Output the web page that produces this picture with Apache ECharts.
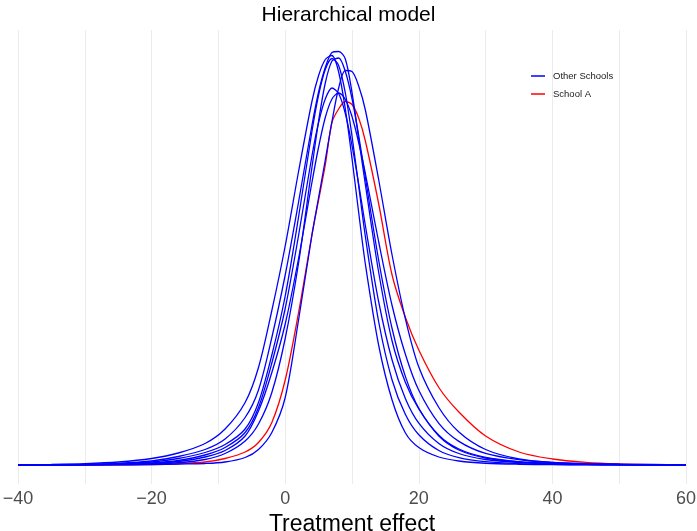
<!DOCTYPE html>
<html>
<head>
<meta charset="utf-8">
<script src="https://cdn.jsdelivr.net/npm/echarts@6.0.0/dist/echarts.min.js"></script>
<style>
  html, body { margin: 0; padding: 0; background: #fff; }
  #chart { width: 697px; height: 531px; }
</style>
</head>
<body>
<div id="chart"></div>
<script>
// Shared x grid for all density curves (treatment effect)
const effectX = [-40, -35, -30, -25, -20, -16, -12, -9, -6, -4, -2, 0, 2, 4, 5, 6, 7, 8, 9, 10, 11, 12, 14, 16, 18, 20, 23, 26, 30, 35, 40, 45, 50, 55, 60];

// Posterior densities of the other schools
const school1 = [0.00005, 0.00012, 0.00027, 0.0006, 0.0013, 0.0024, 0.0043, 0.0072, 0.0125, 0.0195, 0.0309, 0.0438, 0.0587, 0.0727, 0.0779, 0.0811, 0.0819, 0.0786, 0.0712, 0.0613, 0.0505, 0.0402, 0.0239, 0.013, 0.0064, 0.0035, 0.0016, 0.0008, 0.00035, 0.00015, 0.00007, 0.00004, 0.00002, 0.00001, 0];
const school2 = [0.00003, 0.00006, 0.00014, 0.00033, 0.0008, 0.0017, 0.0031, 0.0052, 0.0095, 0.015, 0.0255, 0.038, 0.0526, 0.0679, 0.0746, 0.0795, 0.0825, 0.0827, 0.0812, 0.0745, 0.0653, 0.0561, 0.0385, 0.0248, 0.0165, 0.0112, 0.0058, 0.003, 0.0014, 0.0006, 0.00028, 0.00013, 0.00007, 0.00004, 0.00003];
const school3 = [0.00002, 0.00005, 0.0001, 0.00025, 0.0006, 0.0013, 0.0025, 0.0041, 0.0072, 0.0125, 0.022, 0.0338, 0.0496, 0.0667, 0.074, 0.0791, 0.0813, 0.0799, 0.0744, 0.0658, 0.0558, 0.0457, 0.0286, 0.017, 0.0101, 0.00606, 0.00291, 0.00148, 0.00067, 0.00028, 0.00014, 0.00007, 0.00004, 0.00002, 0.00001];
const school4 = [0, 0, 0.00001, 0.00003, 0.00008, 0.00018, 0.0003, 0.0006, 0.0015, 0.0031, 0.0065, 0.0135, 0.029, 0.046, 0.0535, 0.061, 0.0687, 0.0754, 0.0789, 0.0787, 0.0758, 0.071, 0.057, 0.042, 0.0292, 0.0196, 0.0115, 0.0066, 0.0031, 0.0012, 0.0005, 0.0002, 0.0001, 0.00004, 0.00002];
const school5 = [0.00001, 0.00003, 0.00007, 0.00016, 0.0004, 0.0009, 0.002, 0.0035, 0.0065, 0.0115, 0.0204, 0.0313, 0.0459, 0.0618, 0.0685, 0.0732, 0.0754, 0.0743, 0.0703, 0.0639, 0.0562, 0.0479, 0.0326, 0.021, 0.01325, 0.00836, 0.0043, 0.0023, 0.0011, 0.00048, 0.00023, 0.00012, 0.00007, 0.00004, 0.00002];
const school6 = [0.00001, 0.00002, 0.00005, 0.00012, 0.0003, 0.0007, 0.0016, 0.0029, 0.0058, 0.0108, 0.0185, 0.0282, 0.0413, 0.0565, 0.0636, 0.0695, 0.0732, 0.0744, 0.0731, 0.0697, 0.0645, 0.0583, 0.0446, 0.0319, 0.0221, 0.01494, 0.00833, 0.00473, 0.00231, 0.00106, 0.00051, 0.00029, 0.00016, 0.0001, 0.00006];
const school7 = [0.00001, 0.00002, 0.00004, 0.00008, 0.0002, 0.00045, 0.0011, 0.0023, 0.0048, 0.0082, 0.0145, 0.0253, 0.0404, 0.0595, 0.0688, 0.0764, 0.0808, 0.0814, 0.0787, 0.0733, 0.0659, 0.0575, 0.0409, 0.0273, 0.01767, 0.01135, 0.00596, 0.0032, 0.00152, 0.00068, 0.00034, 0.00018, 0.0001, 0.00006, 0.00003];

// School A (long right tail)
const schoolA = [0, 0.00001, 0.00002, 0.00004, 0.0001, 0.00025, 0.0006, 0.0013, 0.0026, 0.0045, 0.0085, 0.017, 0.0305, 0.046, 0.053, 0.06, 0.0685, 0.0712, 0.0727, 0.0721, 0.0694, 0.0648, 0.0522, 0.038, 0.0295, 0.023, 0.0155, 0.0106, 0.0058, 0.0026, 0.0012, 0.00052, 0.0002, 0.00007, 0.00002];

const otherSchools = [school1, school2, school3, school4, school5, school6, school7];
const legendNames = ['Other Schools', 'School A'];

function toPairs(values) {
    return effectX.map((x, i) => [x, values[i]]);
}

function densitySeries(name, values, color) {
    return {
        name: name,
        type: 'line',
        data: toPairs(values),
        smooth: 0.3,
        symbol: 'none',
        lineStyle: { color: color, width: 1.3 },
        itemStyle: { color: color },
        z: name === 'School A' ? 2 : 3
    };
}

const chart = echarts.init(document.getElementById('chart'), null, { renderer: 'canvas' });

const series = otherSchools.map(s => densitySeries('Other Schools', s, '#0000ff'));
series.push(densitySeries('School A', schoolA, '#ff0000'));

chart.setOption({
    animation: false,
    textStyle: { fontFamily: 'Liberation Sans' },
    title: {
        text: 'Hierarchical model',
        left: 'center',
        top: 0,
        textStyle: { fontSize: 21, fontWeight: 'normal', color: '#000' }
    },
    legend: {
        data: legendNames.map(n => ({ name: n, icon: 'rect' })),
        orient: 'vertical',
        left: 526,
        top: 66,
        itemWidth: 14,
        itemHeight: 1.5,
        itemGap: 8,
        textStyle: { fontSize: 9.5, color: '#1a1a1a', padding: [0, 0, 0, 3] }
    },
    grid: { left: 18, right: 11, top: 30, bottom: 47, outerBoundsMode: 'none' },
    xAxis: {
        type: 'value',
        min: -40,
        max: 60,
        interval: 20,
        name: 'Treatment effect',
        nameLocation: 'middle',
        nameGap: 23,
        nameTextStyle: { fontSize: 23, color: '#000' },
        axisLine: { show: false },
        axisTick: { show: false },
        axisLabel: {
            fontSize: 18,
            color: '#4d4d4d',
            margin: 6,
            formatter: v => String(v).replace('-', '\u2212')
        },
        splitLine: { show: true, lineStyle: { color: '#ebebeb', width: 1 } },
        minorTick: { show: false, splitNumber: 2 },
        minorSplitLine: { show: true, lineStyle: { color: '#ebebeb', width: 1 } }
    },
    yAxis: {
        type: 'value',
        min: -0.0038,
        max: 0.087,
        show: false,
        splitLine: { show: false }
    },
    series: series
});
</script>
</body>
</html>
